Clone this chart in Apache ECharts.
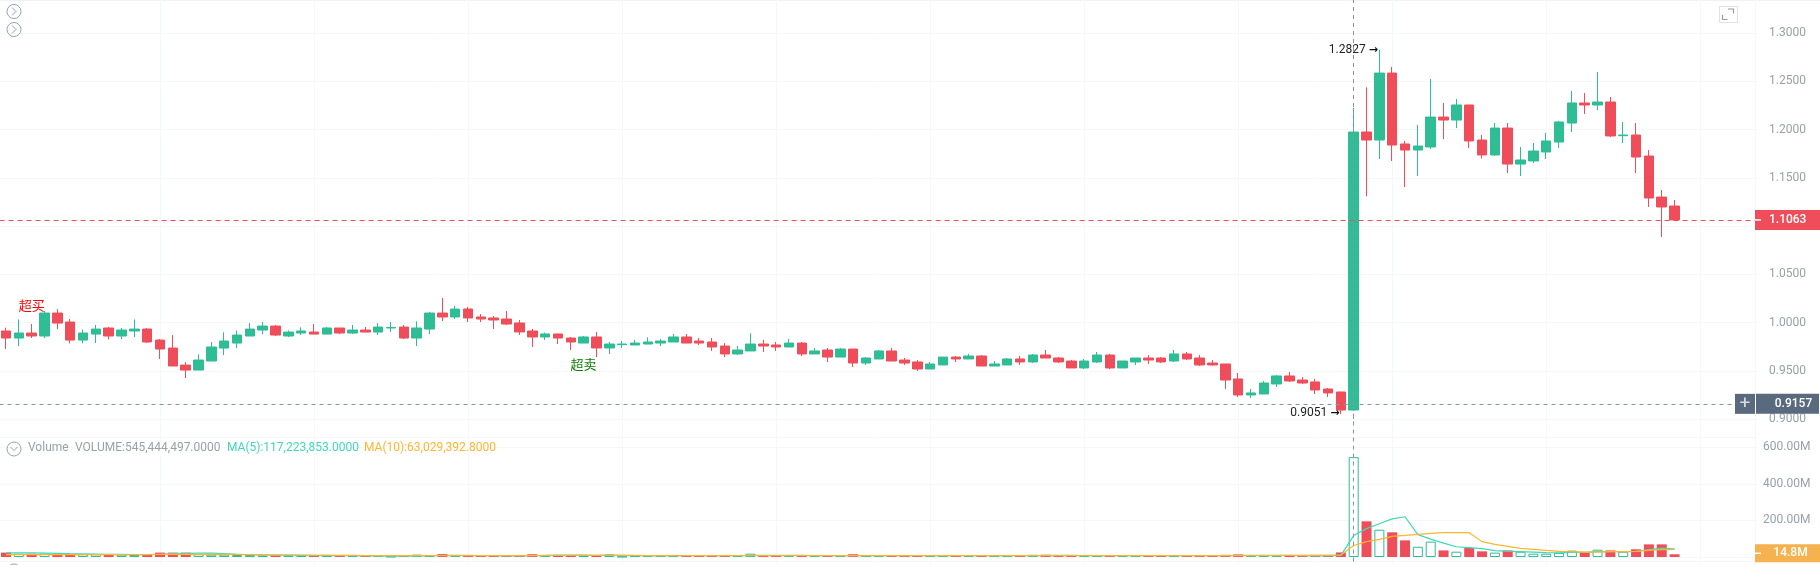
<!DOCTYPE html>
<html><head><meta charset="utf-8">
<style>html,body{margin:0;padding:0;background:#fff}#c{width:1820px;height:565px}</style>
<script src="https://cdn.jsdelivr.net/npm/echarts@6/dist/echarts.min.js"></script>
</head><body><div id="c"></div>
<script>
const opens=[.9912,.9839,.9891,.9860,1.0098,1.0005,.9818,.9880,.9943,.9860,.9912,.9932,.9818,.9735,.9559,.9507,.9601,.9735,.9787,.9860,.9922,.9963,.9860,.9891,.9901,.9880,.9943,.9891,.9922,.9901,.9943,.9953,.9839,.9932,1.0098,1.0057,1.0140,
1.0057,1.0047,1.0036,.9995,.9912,.9850,.9881,.9839,.9787,.9850,.9736,.9770,.9767,.9777,.9787,.9798,.9850,.9808,.9798,.9756,.9674,.9705,.9777,.9767,.9746,.9787,.9674,.9715,.9642,.9725,.9580,.9622,.9705,
.9611,.9591,.9518,.9560,.9642,.9622,.9653,.9549,.9560,.9622,.9591,.9663,.9632,.9601,.9529,.9591,.9663,.9529,.9591,.9632,.9632,.9601,.9674,.9632,.9580,.9570,.9415,.9249,.9259,.9363,.9446,.9404,.9384,.9311,.9280,
.9093,1.1974,1.1891,1.2585,1.1850,1.1787,1.1819,1.2129,1.2098,1.2254,1.1891,1.1736,1.2015,1.1642,1.1674,1.1767,1.1870,1.2067,1.2275,1.2254,1.2285,1.1936,1.1943,1.1725,1.1300,1.1207];
const closes=[.9839,.9891,.9860,1.0098,.9994,.9818,.9891,.9932,.9860,.9922,.9932,.9798,.9725,.9549,.9507,.9611,.9746,.9808,.9870,.9932,.9963,.9870,.9901,.9912,.9880,.9943,.9891,.9922,.9901,.9953,.9949,.9839,.9943,1.0098,1.0057,1.0139,1.0047,
1.0036,1.0026,.9984,.9902,.9850,.9881,.9839,.9798,.9850,.9736,.9777,.9777,.9787,.9798,.9808,.9850,.9787,.9787,.9746,.9674,.9715,.9777,.9756,.9746,.9787,.9674,.9705,.9642,.9725,.9580,.9632,.9705,.9601,
.9580,.9518,.9570,.9642,.9622,.9653,.9549,.9570,.9622,.9591,.9663,.9632,.9591,.9529,.9601,.9663,.9529,.9601,.9632,.9611,.9591,.9674,.9622,.9560,.9560,.9404,.9249,.9270,.9373,.9446,.9394,.9373,.9301,.9270,.9093,
1.1974,1.1891,1.2585,1.1839,1.1787,1.1829,1.2129,1.2098,1.2254,1.1881,1.1736,1.2015,1.1642,1.1684,1.1777,1.1881,1.2078,1.2275,1.2254,1.2285,1.1933,1.1943,1.1715,1.1290,1.1197,1.1063];
const lows=[.9725,.9756,.9839,.9839,.9932,.9784,.9784,.9787,.9825,.9829,.9849,.9787,.9621,.9549,.9424,.9507,.9601,.9663,.9735,.9860,.9880,.9860,.9849,.9870,.9880,.9880,.9880,.9880,.9901,.9870,.9901,.9829,.9756,.9880,1.0015,1.0036,1.0005,
1.0005,.9933,.9974,.9871,.9746,.9819,.9777,.9715,.9787,.9642,.9674,.9736,.9767,.9777,.9756,.9798,.9787,.9767,.9705,.9642,.9663,.9705,.9694,.9705,.9746,.9653,.9674,.9591,.9642,.9539,.9560,.9622,.9601,
.9560,.9497,.9518,.9560,.9591,.9622,.9549,.9549,.9560,.9560,.9580,.9632,.9580,.9529,.9518,.9580,.9518,.9529,.9560,.9570,.9580,.9591,.9611,.9549,.9553,.9311,.9228,.9218,.9259,.9332,.9384,.9363,.9259,.9228,.9051,
.9093,1.1307,1.1694,1.1674,1.1404,1.1518,1.1798,1.1901,1.2015,1.1808,1.1698,1.1725,1.1549,1.1518,1.1653,1.1694,1.1808,1.1974,1.2161,1.2202,1.1922,1.1860,1.1549,1.1197,1.0886,1.1063];
const highs=[.9946,1.0032,.9984,1.0119,1.0139,1.0036,.9929,.9974,.9953,.9943,1.0032,.9943,.9829,.9870,.9590,.9670,.9798,.9898,.9918,.9994,1.0005,.9974,.9918,.9949,.9984,.9953,.9943,.9974,.9953,.9994,1.0005,.9974,1.0012,1.0108,1.0253,1.0171,1.0161,
1.0088,1.0067,1.0119,1.0026,.9933,.9895,.9884,.9850,.9860,.9902,.9798,.9808,.9819,.9846,.9829,.9881,.9881,.9839,.9839,.9787,.9756,.9888,.9819,.9798,.9829,.9798,.9736,.9736,.9736,.9725,.9642,.9715,.9736,
.9632,.9611,.9591,.9642,.9653,.9674,.9663,.9601,.9632,.9653,.9674,.9715,.9642,.9611,.9622,.9694,.9674,.9601,.9632,.9663,.9642,.9715,.9694,.9663,.9611,.9570,.9477,.9311,.9394,.9456,.9487,.9435,.9415,.9321,.9280,
1.2223,1.2437,1.2827,1.2648,1.1881,1.2047,1.2523,1.2275,1.2316,1.2254,1.1943,1.2067,1.2067,1.1819,1.1860,1.1964,1.2088,1.2399,1.2378,1.2596,1.2337,1.2078,1.2067,1.1787,1.1373,1.1269];
const volumes=[24,18,18,18,16,16,15,15,13,13,11,11,24,24,24,15,13,13,11,11,9,9,9,7,7,7,6,6,6,6,2,6,13,7,16,7,6,6,6,6,6,15,11,11,11,8,8,14,2,7,7,7,7,7,7,7,7,7,18,7,7,7,7,7,7,7,15,7,7,7,7,7,7,7,7,7,7,7,7,7,12,12,7,7,7,7,7,7,7,7,7,7,7,7,7,12,14,6,7,6,6,5,5,6,25,
545.44,195,149,135,91,56,84,36,29,49,31,24,36,29,18,18,22,35,25,40,36,29,42,69,69,14.8];
const ma5=[22,22,22,21,20,18,17,16,15,14,13,13,15,18,20,21,21,18,14,13,11,10,10,9,8,7,7,7,6,6,5,5,6,7,9,9,9,8,8,6,6,8,9,10,11,10,9,10,9,8,7,6,7,7,7,7,7,7,9,9,9,9,9,7,7,7,8,8,8,8,8,7,7,7,7,7,7,7,7,7,8,9,9,9,8,7,7,7,7,7,7,7,7,7,7,8,9,9,9,9,9,7,6,6,9,
117.22,155,182,208,220,122,98,76,56,51,46,35,31,29,27,24,22,25,25,29,29,29,31,40,49,45];
const ma10=[13,13,13,13,13,13,13,13,13,13,13,13,14,14,14,14,14,14,14,13,12,12,11,11,10,10,9,9,8,8,8,8,8,8,8,8,8,8,8,8,8,8,8,9,9,9,9,9,9,9,8,8,8,8,8,8,8,8,8,8,8,8,8,8,8,8,8,8,8,8,8,8,8,8,8,8,8,8,8,8,8,8,8,8,8,8,8,8,8,8,7,7,7,7,7,8,8,8,8,8,9,9,10,10,11,
63.03,84,96,113,118,124,129,133,133,133,84,69,58,47,42,36,31,29,27,27,29,29,31,36,40,42];
const categories=Array.from({length:137},(_,i)=>String(i));
const priceTicks={min:0.9,max:1.35,interval:0.05};
const volTicks={min:-200,max:800,interval:200};
const lastPrice=1.1063, crossPrice=0.9157, crossIndex=105, lastVolume=14.8;

const UP='#2ebd94',DOWN='#f04d5a',GRID='#f6f7f8',TXT='#98a0ab',ICON='#9aa1ac',FONT='Roboto';
const candle=opens.map((o,i)=>[o,closes[i],lows[i],highs[i]]);
const volBars=volumes.map((v,i)=>({value:v,itemStyle:closes[i]>=opens[i]?{color:'#fff',borderColor:UP,borderWidth:1}:{color:DOWN,borderWidth:0}}));
const splitV={show:true,alignWithLabel:true,interval:(i)=>i>0&&i%12===0&&i<=132,lineStyle:{color:GRID,width:1}};
function xAxis(gi){return {type:'category',gridIndex:gi,data:categories,boundaryGap:true,axisLine:{show:false},axisTick:{show:false},axisLabel:{show:false},splitLine:splitV};}
const cross={type:[4,4],color:'#8a93a2',width:1};
function circleIcon(cx,cy,pts){return [
 {type:'circle',silent:true,z:100,shape:{cx,cy,r:7},style:{fill:'none',stroke:ICON,lineWidth:1}},
 {type:'polyline',silent:true,z:100,shape:{points:pts},style:{fill:'none',stroke:ICON,lineWidth:1}}];}
function legendText(x,text,fill){return {type:'text',silent:true,z:100,x,y:442,style:{text,fill,font:'12px Roboto',backgroundColor:'#fff'}};}
const graphics=[
 {type:'line',silent:true,shape:{x1:0,y1:0.5,x2:1820,y2:0.5},style:{stroke:'#f0f0f6',lineWidth:1}},
 {type:'line',silent:true,shape:{x1:0,y1:437.5,x2:1755,y2:437.5},style:{stroke:GRID,lineWidth:1}},
 {type:'line',silent:true,shape:{x1:0,y1:561.5,x2:1755,y2:561.5},style:{stroke:GRID,lineWidth:1}},
 ...circleIcon(14,11.5,[[12,7.5],[16,11.5],[12,15.5]]),
 ...circleIcon(14,29.5,[[12,25.5],[16,29.5],[12,33.5]]),
 ...circleIcon(14,449,[[10.5,447],[14,450.5],[17.5,447]]),
 ...circleIcon(14,571,[[10.5,569],[14,572.5],[17.5,569]]),
 {type:'rect',silent:true,z:100,shape:{x:1719.5,y:6.5,width:18,height:16},style:{fill:'#fff',stroke:'#dfe1e5',lineWidth:1}},
 {type:'polyline',silent:true,z:101,shape:{points:[[1728,9],[1733.5,9],[1733.5,13.5]]},style:{fill:'none',stroke:'#969ea9',lineWidth:1.2}},
 {type:'polyline',silent:true,z:101,shape:{points:[[1722.5,15],[1722.5,19.5],[1727.5,19.5]]},style:{fill:'none',stroke:'#969ea9',lineWidth:1.2}},
 legendText(28,'Volume',TXT),
 legendText(75,'VOLUME:545,444,497.0000',TXT),
 legendText(227,'MA(5):117,223,853.0000','#3fd8b8'),
 legendText(364,'MA(10):63,029,392.8000','#ffb52e')
];
const arrowRich={a:{fontFamily:'DejaVu Sans',fontSize:11,color:'#111',fontWeight:'bold',padding:[0,0,0,3]}};
const option={
 animation:false,backgroundColor:'#fff',textStyle:{fontFamily:FONT},
 grid:[{left:-0.4,width:1758.4,top:-15.25,height:434.25,outerBoundsMode:'none'},{left:-0.4,width:1758.4,top:410.6,height:183,outerBoundsMode:'none'}],
 xAxis:[xAxis(0),xAxis(1)],
 yAxis:[
  {type:'value',gridIndex:0,position:'right',offset:-3,min:priceTicks.min,max:priceTicks.max,interval:priceTicks.interval,
   axisLine:{show:true,lineStyle:{color:GRID}},axisTick:{show:false},
   splitLine:{show:true,lineStyle:{color:GRID}},
   axisLabel:{margin:14,color:TXT,fontSize:12,fontFamily:FONT,showMaxLabel:false,formatter:v=>v.toFixed(4)}},
  {type:'value',gridIndex:1,position:'right',offset:-3,min:volTicks.min,max:volTicks.max,interval:volTicks.interval,
   axisLine:{show:true,lineStyle:{color:GRID}},axisTick:{show:false},
   splitLine:{show:true,showMaxLine:false,lineStyle:{color:GRID}},
   axisLabel:{margin:8,color:TXT,fontSize:12,fontFamily:FONT,showMinLabel:false,showMaxLabel:false,
     formatter:v=>v>0?v.toFixed(2)+'M':''}}
 ],
 graphic:graphics,
 series:[
  {type:'candlestick',name:'K',xAxisIndex:0,yAxisIndex:0,data:candle,barWidth:10,clip:false,
   itemStyle:{color:UP,color0:DOWN,borderColor:UP,borderColor0:DOWN,borderWidth:1},z:3,
   markLine:{silent:true,symbol:'none',animation:false,precision:4,z:6,data:[
     {xAxis:crossIndex,lineStyle:cross,label:{show:false}},
     {yAxis:lastPrice,lineStyle:{type:[5,4],color:DOWN,width:1},
      label:{show:true,position:'end',distance:-3,formatter:'{t|}{v|'+lastPrice.toFixed(4)+'}',backgroundColor:DOWN,padding:[0,0,0,0],
        rich:{t:{width:6,height:1.5,backgroundColor:'#fff'},v:{width:58,height:20,lineHeight:20,padding:[0,0,0,8],color:'#fff',fontWeight:500,fontSize:12,fontFamily:FONT,align:'left'}}}},
     {yAxis:crossPrice,lineStyle:cross,
      label:{show:true,position:'end',distance:-23,formatter:'{p|+}{g|}{v|'+crossPrice.toFixed(4)+'}',
        rich:{p:{width:20,height:20,lineHeight:20,align:'center',backgroundColor:'#5a6a7e',color:'#d6dbe2',fontSize:19,fontFamily:FONT},
              g:{width:1,height:20,backgroundColor:'#fff'},
              v:{width:51,height:20,lineHeight:20,padding:[0,0,0,12],backgroundColor:'#5a6a7e',color:'#fff',fontWeight:500,fontSize:12,fontFamily:FONT,align:'left'}}}}
   ]},
   markPoint:{silent:true,animation:false,z:7,symbol:'circle',symbolSize:1,itemStyle:{color:'rgba(0,0,0,0)'},data:[
     {coord:[107,1.2827],label:{show:true,position:'left',distance:1,offset:[0,0],formatter:'1.2827{a|→}',color:'#222',fontSize:12,fontFamily:FONT,rich:arrowRich}},
     {coord:[104,0.9051],label:{show:true,position:'left',distance:1,offset:[0,-1],formatter:'0.9051{a|→}',color:'#222',fontSize:12,fontFamily:FONT,rich:arrowRich}},
     {coord:[2,1.0181],label:{show:true,position:'inside',formatter:'超买',color:'#f00',fontSize:13,fontFamily:'Noto Sans CJK SC'}},
     {coord:[45,0.957],label:{show:true,position:'inside',formatter:'超卖',color:'#0a7d00',fontSize:13,fontFamily:'Noto Sans CJK SC'}}
   ]}},
  {type:'bar',name:'VOLUME',xAxisIndex:1,yAxisIndex:1,data:volBars,barWidth:10,z:2,
   markLine:{silent:true,symbol:'none',animation:false,precision:2,z:6,data:[
     {xAxis:crossIndex,lineStyle:cross,label:{show:false}},
     {yAxis:lastVolume,lineStyle:{color:'rgba(0,0,0,0)'},
      label:{show:true,position:'end',distance:-3,offset:[0,-1],formatter:'{t|}{v|'+lastVolume.toFixed(1)+'M}',backgroundColor:'#f5b24e',
        rich:{t:{width:6,height:1.5,backgroundColor:'#fff'},v:{width:59,height:18,lineHeight:18,color:'#fff',fontWeight:500,fontSize:12,fontFamily:FONT,align:'center'}}}}
   ]}},
  {type:'line',name:'MA(5)',xAxisIndex:1,yAxisIndex:1,data:ma5,symbol:'none',z:4,lineStyle:{color:'#3fd8b8',width:1.2}},
  {type:'line',name:'MA(10)',xAxisIndex:1,yAxisIndex:1,data:ma10,symbol:'none',z:5,lineStyle:{color:'#ffb52e',width:1.2}}
 ]
};
echarts.init(document.getElementById('c'),null,{renderer:'canvas'}).setOption(option);
</script></body></html>
